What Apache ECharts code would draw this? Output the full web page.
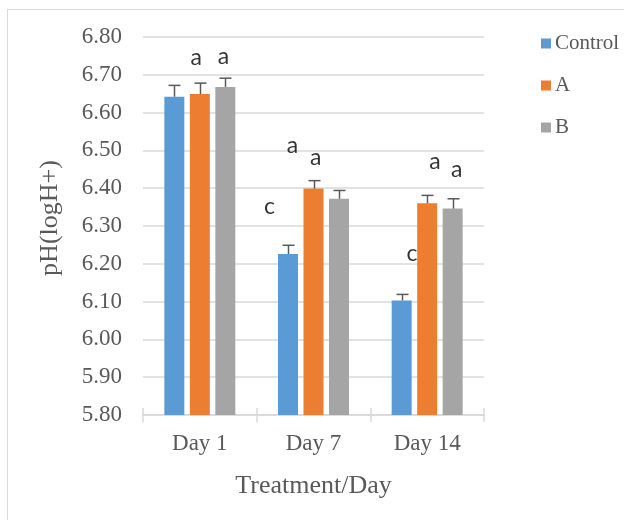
<!DOCTYPE html>
<html><head><meta charset="utf-8">
<script src="https://cdn.jsdelivr.net/npm/echarts@6/dist/echarts.min.js"></script>
<style>html,body{margin:0;padding:0;background:#fff}#c{width:624px;height:520px}</style>
</head><body><div id="c"></div>
<script>
const categories = ['Day 1', 'Day 7', 'Day 14'];
const seriesNames = ['Control', 'A', 'B'];
const controlValues = [6.642, 6.226, 6.103];
const aValues = [6.649, 6.399, 6.360];
const bValues = [6.668, 6.372, 6.346];
const controlErr = [0.030, 0.023, 0.016];
const aErr = [0.029, 0.021, 0.021];
const bErr = [0.023, 0.022, 0.026];
const yTicks = { min: 5.8, max: 6.8, interval: 0.1 };
// letter annotations: [x position in category units (0..3), y value, letter]
const letterX = [0.468, 0.709, 1.112, 1.314, 1.520, 2.367, 2.568, 2.761];
const letterY = [6.745, 6.749, 6.351, 6.514, 6.481, 6.227, 6.470, 6.449];
const letterText = ['a', 'a', 'c', 'a', 'a', 'c', 'a', 'a'];

const colors = ['#5B9BD5', '#ED7D31', '#A5A5A5'];
const serif = 'Liberation Serif';
const BAR_W = 20, BAR_GAP = 5.5;

const values = [controlValues, aValues, bValues];
const errs = [controlErr, aErr, bErr];

const chart = echarts.init(document.getElementById('c'), null, { renderer: 'canvas' });

const series = [];
seriesNames.forEach((n, k) => {
  series.push({
    name: n, type: 'bar', xAxisIndex: 0, yAxisIndex: 0,
    data: values[k], barWidth: BAR_W, barGap: (BAR_GAP / BAR_W * 100) + '%',
    itemStyle: { color: colors[k] }
  });
});
seriesNames.forEach((n, k) => {
  series.push({
    name: n + ' error', type: 'custom', xAxisIndex: 0, yAxisIndex: 0, z: 5,
    data: categories.map((c, i) => [i, values[k][i], values[k][i] + errs[k][i]]),
    renderItem: function (params, api) {
      const p0 = api.coord([api.value(0), api.value(1)]);
      const p1 = api.coord([api.value(0), api.value(2)]);
      const cx = Math.round(p0[0] + (k - 1) * (BAR_W + BAR_GAP)) + 0.5;
      const style = { stroke: '#595959', lineWidth: 1.5 };
      return { type: 'group', children: [
        { type: 'line', shape: { x1: cx, y1: p0[1], x2: cx, y2: p1[1] }, style },
        { type: 'line', shape: { x1: cx - 6, y1: p1[1], x2: cx + 6, y2: p1[1] }, style }
      ] };
    }
  });
});
series.push({
  name: 'letters', type: 'scatter', xAxisIndex: 1, yAxisIndex: 0, symbolSize: 0, z: 10,
  data: letterX.map((x, i) => ({ value: [x, letterY[i]], name: letterText[i] })),
  label: { show: true, position: 'inside', formatter: p => p.name, color: '#000',
    fontFamily: 'Lato', fontSize: 23 }
});

chart.setOption({
  animation: false,
  backgroundColor: '#fff',
  color: colors,
  graphic: [{ type: 'rect', shape: { x: 7.5, y: 9.5, width: 700, height: 600 },
    style: { fill: 'none', stroke: '#d9d9d9', lineWidth: 1 }, silent: true }],
  legend: {
    data: seriesNames, orient: 'vertical', left: 536, top: 28,
    itemWidth: 10, itemHeight: 10, itemGap: 21, icon: 'rect',
    textStyle: { fontFamily: serif, fontSize: 21, color: '#595959', padding: [0, 0, 0, -1] }
  },
  grid: { left: 143, top: 37, width: 341, height: 378 },
  xAxis: [
    { type: 'category', data: categories, gridIndex: 0,
      axisLine: { lineStyle: { color: '#d9d9d9', width: 1.5 } },
      axisTick: { show: true, length: 7, lineStyle: { color: '#d9d9d9', width: 1.5 } },
      axisLabel: { fontFamily: serif, fontSize: 23, color: '#595959', margin: 17 },
      name: 'Treatment/Day', nameLocation: 'middle', nameGap: 58,
      nameTextStyle: { fontFamily: serif, fontSize: 26, color: '#595959' } },
    { type: 'value', min: 0, max: 3, show: false, gridIndex: 0 },
    { type: 'category', data: categories, gridIndex: 0, position: 'bottom',
      axisLine: { show: false }, axisLabel: { show: false },
      axisTick: { show: true, inside: true, length: 7, lineStyle: { color: '#d9d9d9', width: 1.5 } } }
  ],
  yAxis: {
    type: 'value', min: yTicks.min, max: yTicks.max, interval: yTicks.interval,
    axisLine: { show: false }, axisTick: { show: false },
    splitLine: { lineStyle: { color: '#d9d9d9', width: 1.5 } },
    axisLabel: { fontFamily: serif, fontSize: 23, color: '#595959', margin: 21,
      formatter: v => v.toFixed(2) },
    name: 'pH(logH+)', nameLocation: 'middle', nameGap: 80,
    nameTextStyle: { fontFamily: serif, fontSize: 26, color: '#595959', padding: [0, 0, 0, 16] }
  },
  series
});
</script></body></html>
